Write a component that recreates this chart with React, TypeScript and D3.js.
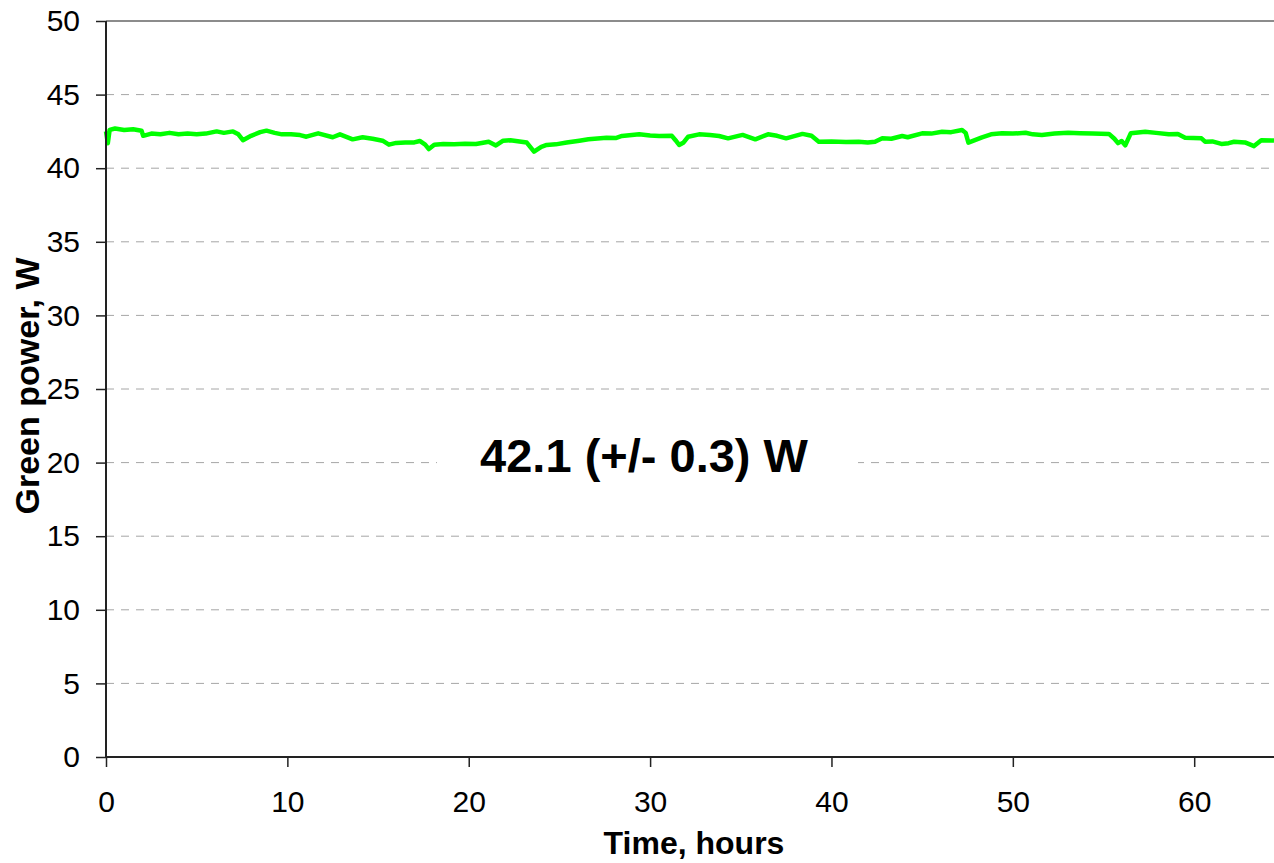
import React, { useEffect, useRef } from "react";
import * as d3 from "d3";

// readings taken off the trace (hours, watts)
const hours = [
  0.0, 0.1, 0.2, 0.5, 1.0, 1.5, 1.96, 2.05, 2.5, 3.0, 3.5, 4.0, 4.5, 5.0, 5.5,
  6.1, 6.5, 7.0, 7.3, 7.55, 8.0, 8.5, 8.85, 9.3, 9.7, 10.2, 10.7, 11.05, 11.7,
  12.5, 12.9, 13.6, 14.15, 14.7, 15.25, 15.6, 16.0, 16.5, 17.0, 17.3, 17.6,
  17.8, 18.1, 18.6, 19.2, 19.8, 20.4, 21.1, 21.5, 21.9, 22.3, 22.6, 23.2, 23.6,
  24.0, 24.3, 24.8, 25.4, 26.1, 26.6, 27.6, 28.1, 28.45, 29.4, 30.0, 30.5,
  31.2, 31.4, 31.6, 31.85, 32.1, 32.7, 33.3, 33.8, 34.3, 35.1, 35.8, 36.5,
  37.0, 37.5, 38.4, 38.9, 39.3, 40.0, 40.8, 41.5, 42.0, 42.4, 42.8, 43.3,
  43.9, 44.2, 45.0, 45.5, 46.1, 46.6, 47.2, 47.4, 47.55, 48.3, 48.8, 49.4,
  50.0, 50.7, 51.1, 51.6, 52.3, 53.05, 53.7, 54.4, 55.3, 55.6, 55.8, 56.0,
  56.2, 56.5, 57.3, 57.9, 58.6, 59.1, 59.5, 60.4, 60.6, 61.0, 61.5, 61.9,
  62.2, 62.8, 63.3, 63.7, 64.4
];
const greenPower = [
  42.5, 41.7, 42.6, 42.7, 42.6, 42.65, 42.55, 42.2, 42.35, 42.3, 42.4, 42.3,
  42.35, 42.3, 42.35, 42.5, 42.4, 42.5, 42.3, 41.9, 42.2, 42.45, 42.55, 42.4,
  42.3, 42.3, 42.25, 42.14, 42.37, 42.1, 42.3, 41.96, 42.1, 42.0, 41.87, 41.6,
  41.72, 41.75, 41.75, 41.85, 41.6, 41.3, 41.6, 41.65, 41.62, 41.66, 41.65,
  41.8, 41.55, 41.87, 41.9, 41.85, 41.74, 41.12, 41.45, 41.58, 41.62, 41.74,
  41.87, 41.96, 42.07, 42.05, 42.19, 42.3, 42.22, 42.19, 42.2, 41.9, 41.58,
  41.75, 42.14, 42.3, 42.25, 42.19, 42.03, 42.26, 41.96, 42.3, 42.2, 42.03,
  42.33, 42.2, 41.8, 41.82, 41.78, 41.8, 41.75, 41.8, 42.03, 42.0, 42.19, 42.1,
  42.37, 42.35, 42.48, 42.45, 42.6, 42.4, 41.74, 42.1, 42.3, 42.37, 42.35,
  42.41, 42.3, 42.26, 42.35, 42.41, 42.38, 42.36, 42.33, 42.0, 41.7, 41.85,
  41.55, 42.37, 42.48, 42.4, 42.3, 42.33, 42.07, 42.03, 41.8, 41.82, 41.65,
  41.7, 41.8, 41.75, 41.5, 41.9, 41.88
];
const xTicks = [0, 10, 20, 30, 40, 50, 60];
const yTicks = [0, 5, 10, 15, 20, 25, 30, 35, 40, 45, 50];
const annotation = "42.1 (+/- 0.3) W";

const W = 1274;
const H = 863;
const font = "Arial, 'Liberation Sans', sans-serif";

export default function App() {
  const ref = useRef<SVGSVGElement>(null);

  useEffect(() => {
    const svg = d3.select(ref.current);
    svg.selectAll("*").remove();

    const left = 106, right = 1274, top = 21, bottom = 757;
    const x = d3.scaleLinear().domain([0, 64.4]).range([left, right]);
    const y = d3.scaleLinear().domain([0, 50]).range([bottom, top]);

    // grid
    svg.append("g")
      .selectAll("line")
      .data(yTicks.filter(t => t > 0 && t < 50))
      .enter()
      .append("line")
      .attr("x1", left)
      .attr("x2", right)
      .attr("y1", d => y(d))
      .attr("y2", d => y(d))
      .attr("stroke", "#a6a6a6")
      .attr("stroke-width", 1)
      .attr("stroke-dasharray", "8 7");

    // top border
    svg.append("line")
      .attr("x1", left).attr("x2", right)
      .attr("y1", y(50)).attr("y2", y(50))
      .attr("stroke", "#8c8c8c").attr("stroke-width", 2);

    // annotation box hides the gridline behind it
    svg.append("rect")
      .attr("x", 437).attr("y", 428)
      .attr("width", 421).attr("height", 66)
      .attr("fill", "white");
    svg.append("text")
      .attr("x", 644).attr("y", 472)
      .attr("text-anchor", "middle")
      .attr("font-family", font)
      .attr("font-weight", "bold")
      .attr("font-size", 47)
      .text(annotation);

    // trace
    const pts: [number, number][] = hours.map((h, i) => [h, greenPower[i]]);
    const line = d3.line<[number, number]>()
      .x(d => x(d[0]))
      .y(d => y(d[1]));
    svg.append("path")
      .datum(pts)
      .attr("d", line)
      .attr("fill", "none")
      .attr("stroke", "#00ff00")
      .attr("stroke-width", 4.5)
      .attr("stroke-linejoin", "round");

    // axes
    const yAxis = svg.append("g")
      .attr("transform", `translate(${left},0)`)
      .call(d3.axisLeft(y).tickValues(yTicks).tickSize(10).tickPadding(16));
    const xAxis = svg.append("g")
      .attr("transform", `translate(0,${bottom})`)
      .call(d3.axisBottom(x).tickValues(xTicks).tickSize(10).tickPadding(12));

    [xAxis, yAxis].forEach(g => {
      g.select(".domain").attr("stroke", "#222").attr("stroke-width", 2);
      g.selectAll(".tick line").attr("stroke", "#222").attr("stroke-width", 1.5);
      g.selectAll(".tick text")
        .attr("font-family", font)
        .attr("font-size", 30)
        .attr("fill", "#000");
    });
    xAxis.select(".domain").attr("d", `M${left},0H${right}`);
    yAxis.select(".domain").attr("d", `M0,${bottom}V${top}`);
    xAxis.selectAll(".tick text").attr("dy", "0.71em").attr("y", 34);

    // titles
    svg.append("text")
      .attr("x", 694).attr("y", 854)
      .attr("text-anchor", "middle")
      .attr("font-family", font)
      .attr("font-weight", "bold")
      .attr("font-size", 32)
      .text("Time, hours");
    svg.append("text")
      .attr("transform", "translate(39,386) rotate(-90)")
      .attr("text-anchor", "middle")
      .attr("font-family", font)
      .attr("font-weight", "bold")
      .attr("font-size", 34)
      .text("Green power, W");
  }, []);

  return (
    <div style={{ position: "absolute", left: 0, top: 0 }}>
      <svg ref={ref} width={W} height={H} style={{ display: "block", background: "white" }} />
    </div>
  );
}
